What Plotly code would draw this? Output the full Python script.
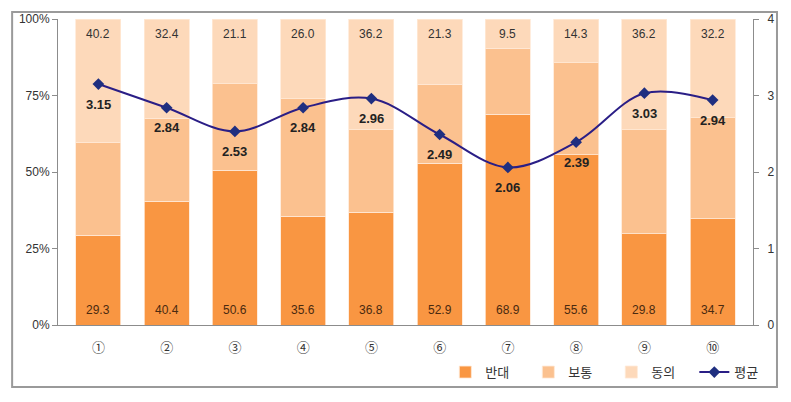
import plotly.graph_objects as go

# Survey items and response shares (%)
items = ['①', '②', '③', '④', '⑤', '⑥', '⑦', '⑧', '⑨', '⑩']
oppose = [29.3, 40.4, 50.6, 35.6, 36.8, 52.9, 68.9, 55.6, 29.8, 34.7]
agree = [40.2, 32.4, 21.1, 26.0, 36.2, 21.3, 9.5, 14.3, 36.2, 32.2]
neutral = [round(100 - o - a, 1) for o, a in zip(oppose, agree)]
average = [3.15, 2.84, 2.53, 2.84, 2.96, 2.49, 2.06, 2.39, 3.03, 2.94]

pct_ticks = [0, 25, 50, 75, 100]
avg_ticks = [0, 1, 2, 3, 4]

font_main = 'Noto Sans CJK KR, Malgun Gothic, sans-serif'
font_num = 'Liberation Sans, Arial, sans-serif'
seg_line = dict(color='#FFE9D6', width=0.8)

fig = go.Figure()

fig.add_trace(go.Bar(x=items, y=oppose, name='반대',
                     marker=dict(color='#F99642', line=seg_line), hoverinfo='x+y'))
fig.add_trace(go.Bar(x=items, y=neutral, name='보통',
                     marker=dict(color='#FBC18F', line=seg_line), hoverinfo='x+y'))
fig.add_trace(go.Bar(x=items, y=agree, name='동의',
                     marker=dict(color='#FDD9BA', line=seg_line), hoverinfo='x+y'))
fig.add_trace(go.Scatter(
    x=items, y=average, name='평균', yaxis='y2',
    mode='lines+markers',
    line=dict(color='#2A1E86', width=2, shape='spline', smoothing=1.0),
    marker=dict(symbol='diamond', size=9, color='#1F2F80'),
    cliponaxis=False,
))

# value labels: 반대 at bar bottom, 동의 at bar top, 평균 below each point
for cat, o, a, m in zip(items, oppose, agree, average):
    fig.add_annotation(x=cat, y=0, text=f'{o:.1f}', showarrow=False,
                       yshift=15, font=dict(size=12, color='#4A2A10', family=font_num))
    fig.add_annotation(x=cat, y=100, text=f'{a:.1f}', showarrow=False,
                       yshift=-15, font=dict(size=12, color='#333333', family=font_num))
    fig.add_annotation(x=cat, y=m, yref='y2', text=f'<b>{m:.2f}</b>', showarrow=False,
                       yshift=-20, font=dict(size=13, color='#222222', family=font_num))

fig.update_layout(
    width=791, height=402,
    barmode='stack', bargap=0.34,
    paper_bgcolor='white', plot_bgcolor='white',
    margin=dict(l=50, r=46, t=11, b=85, autoexpand=False),
    font=dict(family=font_main, size=12, color='#333333'),
    xaxis=dict(
        showline=True, linecolor='#8C8C8C', linewidth=1, automargin=False,
        ticks='outside', ticklen=10, tickcolor='rgba(0,0,0,0)',
        tickfont=dict(size=13, color='#333333'),
    ),
    yaxis=dict(
        range=[0, 100], tickvals=pct_ticks, ticktext=[f'{v}%' for v in pct_ticks],
        showgrid=False, zeroline=False, automargin=False,
        showline=True, linecolor='#8C8C8C', linewidth=1,
        ticks='outside', ticklen=5, tickcolor='#8C8C8C',
        tickfont=dict(size=12, color='#333333', family=font_num),
    ),
    yaxis2=dict(
        range=[0, 4], tickvals=avg_ticks, overlaying='y', side='right',
        showgrid=False, zeroline=False, automargin=False,
        showline=True, linecolor='#8C8C8C', linewidth=1,
        ticks='outside', ticklen=5, tickcolor='#8C8C8C', ticklabelstandoff=6,
        tickfont=dict(size=12, color='#333333', family=font_num),
    ),
    legend=dict(
        orientation='h', x=1.035, xanchor='right', y=-0.154, yanchor='middle',
        entrywidth=38, entrywidthmode='pixels',
        font=dict(size=13, color='#333333'), traceorder='normal',
        bgcolor='rgba(0,0,0,0)',
    ),
    showlegend=True,
)

# outer chart frame
fig.add_shape(type='rect', xref='paper', yref='paper',
              x0=-0.066, x1=1.0345, y0=-0.2026, y1=1.0229,
              line=dict(color='#9A9A9A', width=2), fillcolor='rgba(0,0,0,0)', layer='below')

fig.write_html('out.html')
